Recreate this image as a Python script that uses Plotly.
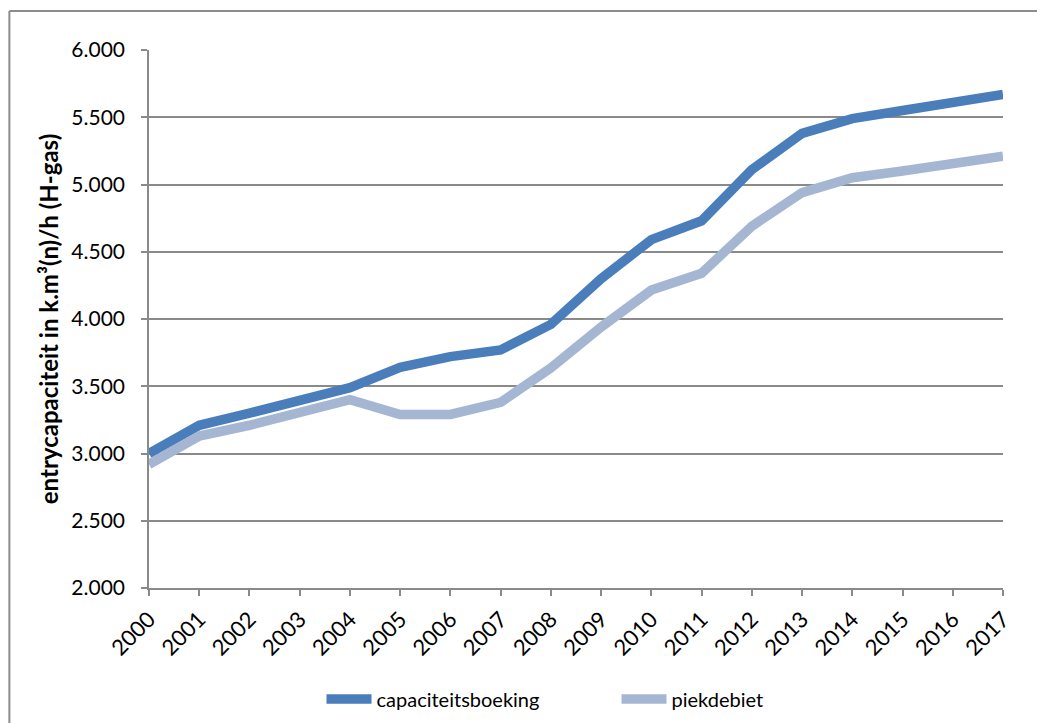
import plotly.graph_objects as go

# Jaren op de x-as
jaren = [str(j) for j in range(2000, 2018)]

# Entrycapaciteit H-gas (k.m³(n)/h)
capaciteitsboeking = [3000, 3210, 3300, 3390, 3490, 3640, 3720, 3770, 3960, 4300,
                      4590, 4730, 5110, 5380, 5490, 5550, 5610, 5670]
piekdebiet = [2920, 3130, 3210, 3300, 3400, 3290, 3290, 3380, 3636, 3940,
              4215, 4340, 4690, 4940, 5050, 5100, 5150, 5210]

y_ticks = [2000, 2500, 3000, 3500, 4000, 4500, 5000, 5500, 6000]
y_labels = ["2.000", "2.500", "3.000", "3.500", "4.000", "4.500", "5.000", "5.500", "6.000"]

FONT = "Lato, 'Open Sans', sans-serif"
GRID = "#8a8a8a"

fig = go.Figure()
fig.add_trace(go.Scatter(x=jaren, y=capaciteitsboeking, mode="lines",
                         name="capaciteitsboeking",
                         line=dict(color="#4A7EBB", width=9.5)))
fig.add_trace(go.Scatter(x=jaren, y=piekdebiet, mode="lines",
                         name="piekdebiet",
                         line=dict(color="#A5B6D3", width=9.5)))

fig.update_layout(
    width=1037, height=723,
    margin=dict(l=149, r=34, t=50, b=135, autoexpand=False),
    paper_bgcolor="white", plot_bgcolor="white",
    font=dict(family=FONT, size=20, color="#000000"),
    showlegend=True,
    legend=dict(orientation="h", x=0.202, xanchor="left", y=-0.17, yanchor="top",
                font=dict(size=20), itemwidth=45,
                entrywidth=235, entrywidthmode="pixels"),
    xaxis=dict(
        type="category", range=[0, 17], automargin=False,
        showgrid=False, showline=True, linecolor=GRID, linewidth=1.5,
        ticks="outside", ticklen=6, tickcolor=GRID, tickwidth=1.5,
        tickangle=-45, tickfont=dict(size=22), ticklabelstandoff=2,
    ),
    yaxis=dict(
        range=[2000, 6000], tickvals=y_ticks, ticktext=y_labels, automargin=False,
        showgrid=True, gridcolor=GRID, gridwidth=1.5,
        showline=True, linecolor=GRID, linewidth=1.5,
        ticks="outside", ticklen=6, tickcolor=GRID, tickwidth=1.5,
        tickfont=dict(size=21), zeroline=False, ticklabelstandoff=12,
        title=dict(text="<b>entrycapaciteit in k.m³(n)/h (H-gas)</b>",
                   font=dict(size=24), standoff=6),
    ),
    shapes=[
        dict(type="line", xref="paper", yref="paper",
             x0=-0.1635, y0=1.0725, x1=-0.1635, y1=-0.4,
             line=dict(color="#8c8c8c", width=2)),
        dict(type="line", xref="paper", yref="paper",
             x0=-0.1635, y0=1.0725, x1=1.2, y1=1.0725,
             line=dict(color="#8c8c8c", width=2)),
    ],
)

fig.write_html("out.html")
